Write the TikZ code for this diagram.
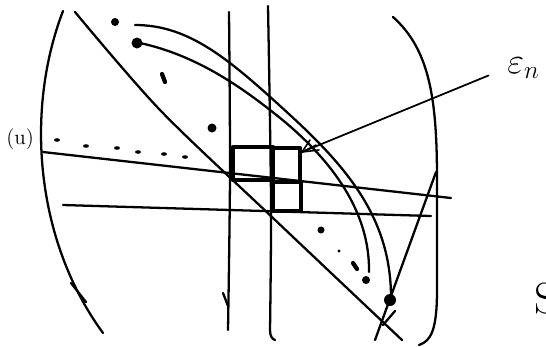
\documentclass[tikz,border=0pt]{standalone}
\usepackage{amsmath, amssymb}
\usetikzlibrary{calc}

\begin{document}
\begin{tikzpicture}[x=0.02cm, y=-0.02cm,
    pen/.style={line width=1.3pt, line cap=round, line join=round},
    box/.style={line width=2.4pt, line join=round},
    speck/.style={line width=2.4pt, line cap=round}]
  \useasboundingbox (0,0) rectangle (546,346);

  \coordinate (tip) at (302,152);
  \coordinate (LA) at (43,152);
  \coordinate (LB) at (451,198);
  \coordinate (MA) at (63,205);
  \coordinate (MB) at (431,216);

  \draw[pen] (63,11) .. controls (25,110) and (35,240) .. (103,333);
  \draw[pen] (71,283) -- (86,302);
  \draw[pen] (393,17) .. controls (430,50) and (437,100) .. (437,180) -- (437,290) .. controls (437,330) and (431,341) .. (419,345);

  \draw[pen] plot[smooth] coordinates {(75,12) (160,110) (273,218) (402,340)};
  \draw[pen] (375,340) -- (436,172);
  \draw[pen] (383,325) -- (395,311);

  \draw[pen] plot[smooth] coordinates {(229,12) (230,173) (228,330)};
  \draw[pen] (223,293) -- (228,306);
  \draw[pen] plot[smooth] coordinates {(268,6) (271,200) (270,330)} .. controls (270,336) and (272,339) .. (275,340);

  \draw[pen] (135,25) .. controls (190,25) and (230,60) .. (290,115) .. controls (350,170) and (390,220) .. (391,295);
  \draw[pen] (140,43) .. controls (195,55) and (240,85) .. (285,122) .. controls (330,160) and (370,210) .. (369,272);

  \draw[pen] (LA) -- (LB);
  \draw[pen] (MA) -- (MB);

  \foreach \x/\y in {57/140, 86/146, 117/148, 138/152, 164/154, 185/157} {
    \fill (\x,\y) ellipse[x radius=3, y radius=1.8];
  }

  \fill (115,22) circle[radius=4];
  \fill (137,43) circle[radius=5.5];
  \draw[speck] (162,74) -- (165,82);
  \fill (212,128) circle[radius=4.5];
  \fill (321,230) circle[radius=3.5];
  \fill (339,251) circle[radius=1.6];
  \draw[speck] (353,263) -- (357,269);
  \fill (366,280) circle[radius=4];
  \fill (390,300) circle[radius=6];

  \draw[box] (233,147) rectangle (273,180);
  \draw[box] (273,148) rectangle (300,182);
  \draw[box] (273,182) rectangle (301,211);

  \node[anchor=base west, inner sep=0pt] (lbl) at (507,73) {\huge $\varepsilon_n$};
  \draw[pen, line width=1pt, shorten <=4mm] (lbl.west) -- (tip);
  \draw[pen, line width=0.9pt] (tip) -- ++(8,-12);
  \draw[pen, line width=0.9pt] (tip) -- ++(14,-7);
  \draw[pen, line width=0.9pt] (tip) -- ++(17,-2);

  \node[anchor=base west, inner sep=0pt] (ulbl) at (6,144) {\large (u)};
  \node[anchor=base west, inner sep=0pt] (slbl) at (534,313) {\Huge S};
\end{tikzpicture}
\end{document}
